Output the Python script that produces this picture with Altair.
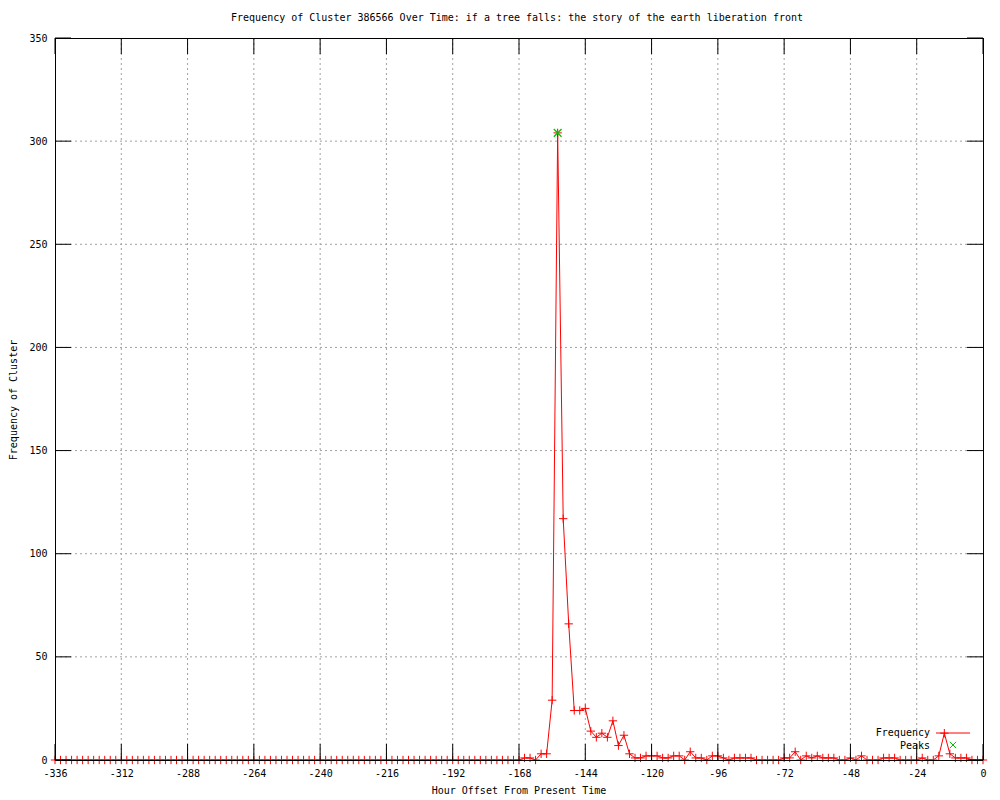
import altair as alt
import pandas as pd

# ---------------- data ----------------
hours = list(range(-336, 1, 2))
freq = [
    0, 0, 0, 0, 0, 0, 0, 0, 0, 0, 0, 0, 0, 0, 0, 0, 0,
    0, 0, 0, 0, 0, 0, 0, 0, 0, 0, 0, 0, 0, 0, 0, 0, 0,
    0, 0, 0, 0, 0, 0, 0, 0, 0, 0, 0, 0, 0, 0, 0, 0, 0,
    0, 0, 0, 0, 0, 0, 0, 0, 0, 0, 0, 0, 0, 0, 0, 0, 0,
    0, 0, 0, 0, 0, 0, 0, 0, 0, 0, 0, 0, 0, 0, 0, 0, 0,
    # -166 .. -128
    1, 1, 0, 3, 3, 29, 304, 117, 66, 24, 24, 25, 14, 11, 13, 11, 19, 7, 12, 3,
    # -126 .. -88
    1, 1, 2, 2, 2, 1, 1, 2, 2, 0, 4, 1, 1, 0, 2, 2, 1, 0, 1, 1,
    # -86 .. -48
    1, 1, 0, 0, 0, 0, 0, 1, 1, 4, 0, 2, 1, 2, 1, 1, 1, 0, 0, 1,
    # -46 .. 0
    0, 2, 0, 0, 0, 1, 1, 1, 0, 0, 0, 0, 1, 0, 0, 2, 13, 3, 1, 1, 1, 0, 0, 0,
]
peak_hours = [-154]
peak_values = [304]

x_ticks = [-336, -312, -288, -264, -240, -216, -192, -168, -144, -120, -96, -72, -48, -24, 0]
y_ticks = [0, 50, 100, 150, 200, 250, 300, 350]

title_text = "Frequency of Cluster 386566 Over Time: if a tree falls: the story of the earth liberation front"
x_title = "Hour Offset From Present Time"
y_title = "Frequency of Cluster"
legend_labels = ["Frequency", "Peaks"]

# ---------------- layout ----------------
W, H = 928, 722
FONT = "DejaVu Sans Mono"
TICK = 16
RED = "#ff0000"
GREEN = "#00c000"
GRID = "#a0a0a0"
PLUS = "M-1,0L1,0M0,-1L0,1"
XSHAPE = "M-1,-1L1,1M-1,1L1,-1"

df = pd.DataFrame({"hour": hours, "freq": freq})
peaks = pd.DataFrame({"hour": peak_hours, "freq": peak_values})
xt = pd.DataFrame({"t": x_ticks})
yt = pd.DataFrame({"t": y_ticks})
xt_in = pd.DataFrame({"t": x_ticks[1:-1]})
yt_in = pd.DataFrame({"t": y_ticks[1:-1]})
one = pd.DataFrame({"a": [0]})

xs = alt.Scale(domain=[-336, 0], nice=False, zero=False)
ys = alt.Scale(domain=[0, 350], nice=False, zero=True)

xaxis = alt.Axis(values=x_ticks, grid=False, ticks=False, domain=False,
                 labelExpr="datum.value + ''", labelFont=FONT, labelFontSize=10,
                 labelColor="black", labelPadding=8, labelFlush=False,
                 labelOverlap=False, title=None)
yaxis = alt.Axis(values=y_ticks, grid=False, ticks=False, domain=False,
                 labelExpr="datum.value + ''", labelFont=FONT, labelFontSize=10,
                 labelColor="black", labelPadding=8, labelFlush=False,
                 labelOverlap=False, title=None)

X = lambda f: alt.X(f, scale=xs, axis=xaxis)
Y = lambda f: alt.Y(f, scale=ys, axis=yaxis)

grid_x = alt.Chart(xt_in).mark_rule(color=GRID, strokeDash=[2, 3], strokeWidth=1).encode(
    x=X("t:Q"), y=alt.value(0), y2=alt.value(H))
grid_y = alt.Chart(yt_in).mark_rule(color=GRID, strokeDash=[2, 3], strokeWidth=1).encode(
    y=Y("t:Q"), x=alt.value(0), x2=alt.value(W))

tick_xb = alt.Chart(xt).mark_rule(color="black", strokeWidth=1).encode(
    x=X("t:Q"), y=alt.value(H), y2=alt.value(H - TICK))
tick_xt = alt.Chart(xt).mark_rule(color="black", strokeWidth=1).encode(
    x=X("t:Q"), y=alt.value(0), y2=alt.value(TICK))
tick_yl = alt.Chart(yt).mark_rule(color="black", strokeWidth=1).encode(
    y=Y("t:Q"), x=alt.value(0), x2=alt.value(TICK))
tick_yr = alt.Chart(yt).mark_rule(color="black", strokeWidth=1).encode(
    y=Y("t:Q"), x=alt.value(W), x2=alt.value(W - TICK))

line = alt.Chart(df).mark_line(color=RED, strokeWidth=1).encode(
    x=X("hour:Q"), y=Y("freq:Q"))
pts = alt.Chart(df).mark_point(shape=PLUS, size=70, filled=False, color=RED,
                               strokeWidth=1, opacity=1).encode(
    x=X("hour:Q"), y=Y("freq:Q"))
peak_pts = alt.Chart(peaks).mark_point(shape=XSHAPE, size=60, filled=False, color=GREEN,
                                       strokeWidth=1.3, opacity=1).encode(
    x=X("hour:Q"), y=Y("freq:Q"))

border = [
    alt.Chart(one).mark_rule(color="black", strokeWidth=1).encode(
        x=alt.value(0), x2=alt.value(W), y=alt.value(0.5)),
    alt.Chart(one).mark_rule(color="black", strokeWidth=1).encode(
        x=alt.value(0), x2=alt.value(W), y=alt.value(H + 0.5)),
    alt.Chart(one).mark_rule(color="black", strokeWidth=1).encode(
        x=alt.value(0.5), y=alt.value(0), y2=alt.value(H)),
    alt.Chart(one).mark_rule(color="black", strokeWidth=1).encode(
        x=alt.value(W + 0.5), y=alt.value(0), y2=alt.value(H)),
]

def txt(s, x, y, align="center", angle=0):
    return alt.Chart(pd.DataFrame({"s": [s]})).mark_text(
        font=FONT, fontSize=10, color="black", align=align, baseline="middle",
        angle=angle).encode(text="s:N", x=alt.value(x), y=alt.value(y))

title = txt(title_text, 462, -20)
xlab = txt(x_title, 464, 753)
ylab = txt(y_title, -41, 362, angle=270)

leg_freq = txt(legend_labels[0], 875, 695, align="right")
leg_peak = txt(legend_labels[1], 875, 708, align="right")
leg_line = alt.Chart(one).mark_rule(color=RED, strokeWidth=1).encode(
    x=alt.value(881), x2=alt.value(915), y=alt.value(695))
leg_x = alt.Chart(one).mark_point(shape=XSHAPE, size=40, filled=False, color=GREEN,
                                  strokeWidth=1, opacity=1).encode(
    x=alt.value(898), y=alt.value(707))

chart = alt.layer(
    grid_x, grid_y, line, pts, peak_pts,
    tick_xb, tick_xt, tick_yl, tick_yr, *border,
    title, xlab, ylab, leg_freq, leg_peak, leg_line, leg_x,
).properties(
    width=W, height=H,
    autosize=alt.AutoSizeParams(type="none"),
    padding={"left": 47, "top": 30, "right": 9, "bottom": 40},
).configure_view(stroke="transparent").configure(background="white")

chart.save("out.html", embed_options={"renderer": "svg", "actions": False})
